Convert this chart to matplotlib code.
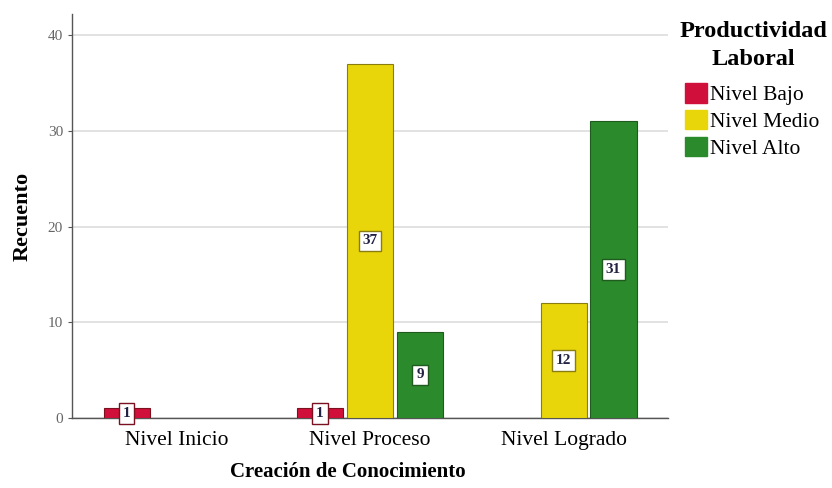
import numpy as np
import matplotlib.pyplot as plt
from matplotlib.patches import Patch

# Conteos por nivel de creación de conocimiento y productividad laboral
categorias = ['Nivel Inicio', 'Nivel Proceso', 'Nivel Logrado']
niveles = ['Nivel Bajo', 'Nivel Medio', 'Nivel Alto']
bajo = [1, 1, 0]
medio = [0, 37, 12]
alto = [0, 9, 31]

colores = ['#d0103a', '#e8d50a', '#2b8a2b']
bordes = ['#7a1020', '#8a7d10', '#1f5a1f']

plt.rcParams['font.family'] = ['Liberation Serif', 'DejaVu Serif']

fig = plt.figure(figsize=(8.32, 4.88), dpi=100)
ax = fig.add_axes([0.0865, 0.1434, 0.7165, 0.8276])

x = np.arange(len(categorias))
offsets = [-0.258, 0.0, 0.258]
ancho = 0.238
series = [bajo, medio, alto]

for serie, off, c, b in zip(series, offsets, colores, bordes):
    for xi, v in zip(x, serie):
        if v == 0:
            continue
        ax.bar(xi + off, v, width=ancho, color=c, edgecolor=b, linewidth=0.8, zorder=3)
        ax.text(xi + off, v / 2, str(v), ha='center', va='center', fontsize=11,
                fontweight='bold', color='#222244', zorder=4,
                bbox=dict(boxstyle='square,pad=0.25', facecolor='white', edgecolor=b, linewidth=1.0))

ax.set_xlim(-0.54, 2.54)
ax.set_ylim(0, 42.2)
ax.set_yticks([0, 10, 20, 30, 40])
ax.set_xticks(x)
ax.set_xticklabels(categorias, fontsize=15.5)
ax.tick_params(axis='y', labelsize=11, labelcolor='#666666', length=3, color='#555555')
ax.tick_params(axis='x', length=0, pad=9)
ax.yaxis.grid(True, color='#dddddd', linewidth=1.2, zorder=0)

for s in ['top', 'right']:
    ax.spines[s].set_visible(False)
ax.spines['left'].set_color('#555555')
ax.spines['bottom'].set_color('#555555')
ax.spines['left'].set_linewidth(1.0)
ax.spines['bottom'].set_linewidth(1.0)

ax.set_ylabel('Recuento', fontsize=16, fontweight='bold', labelpad=11)
ax.set_xlabel('Creación de Conocimiento', fontsize=15, fontweight='bold')
ax.xaxis.set_label_coords(0.463, -0.108)

# leyenda: título aparte para controlar el espaciado
fig.text(0.906, 0.907, 'Productividad\nLaboral', ha='center', va='center',
         fontsize=17.5, fontweight='bold', linespacing=1.4)
handles = [Patch(facecolor=c, edgecolor=c) for c in colores]
leg = fig.legend(handles, niveles, loc='upper left',
                 bbox_to_anchor=(0.8235, 0.829), frameon=False, fontsize=15.5,
                 handlelength=1.0, handleheight=1.0, handletextpad=0.15, labelspacing=0.22,
                 borderaxespad=0, borderpad=0)

fig.savefig('out.png', dpi=100)
